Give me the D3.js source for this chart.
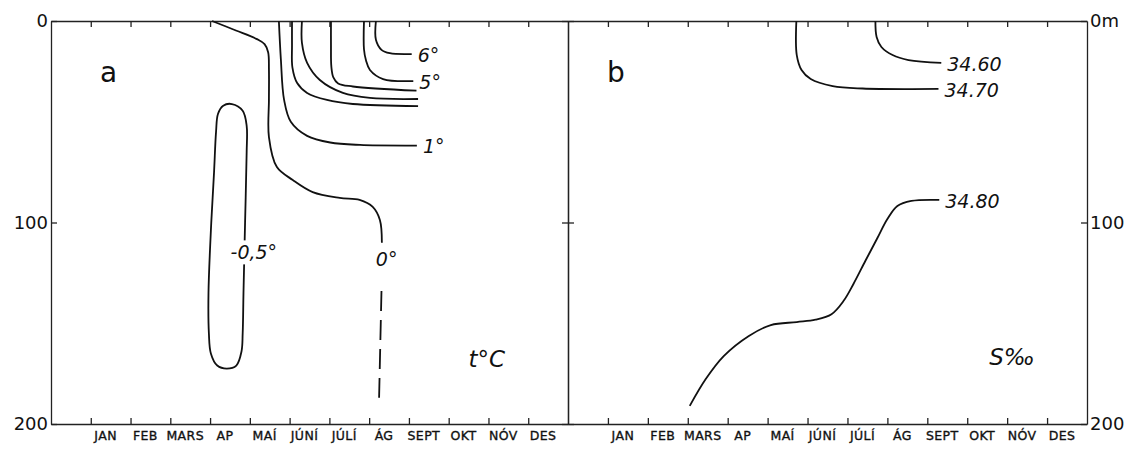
<!DOCTYPE html>
<html lang="en">
<head>
<meta charset="UTF-8">
<title>Hitastig og selta</title>
<script src="https://d3js.org/d3.v7.min.js"></script>
<style>
    body { margin: 0; background: #fff; }
    svg { display: block; font-family: "DejaVu Sans", sans-serif; }
    .axis path, .axis line { stroke: #222; stroke-width: 1.3; fill: none; }
    .axis text { font-family: "DejaVu Sans", sans-serif; fill: #111; }
    .depth text { font-size: 18px; }
    .month text { font-size: 12.5px; letter-spacing: 0.4px; stroke: #111; stroke-width: 0.35px; }
    .contour { fill: none; stroke: #111; stroke-width: 1.8; }
    .clabel { font-style: italic; font-size: 19px; fill: #111; }
    .panel-letter { font-size: 28px; fill: #111; }
    .unit { font-style: italic; font-size: 23px; fill: #111; }
</style>
</head>
<body>
<script>

    var w = 1131;
    var h = 449;

    var months = ["JAN", "FEB", "MARS", "AP", "MAÍ", "JÚNÍ", "JÚLÍ", "ÁG", "SEPT", "OKT", "NÓV", "DES"];
    var monthTicks = d3.range(1, 13);
    var depthTicks = [0, 100, 200];

    // points are [month position, depth in m]; 0 = left edge, 1 = JAN tick ... 13 = right edge
    // a: temperature
    var temp6 = [[8.17, 0], [8.17, 9.3], [8.31, 14.3], [8.52, 16], [9.07, 16.4]];
    var temp5 = [[7.87, 0], [7.87, 14], [7.92, 19.5], [8.02, 24.3], [8.35, 28.8], [9.11, 29.8]];
    var temp4 = [[7.04, 0], [7.04, 12], [7.05, 22.8], [7.10, 28], [7.22, 31], [7.59, 32.5], [9.19, 34.6]];
    var temp3 = [[6.31, 0], [6.31, 10.9], [6.44, 20.8], [6.76, 29.3], [7.34, 35.7], [8.02, 38.2], [9.23, 38.7]];
    var temp2 = [[6.06, 0], [6.06, 12], [6.07, 23], [6.19, 30.8], [6.44, 35.7], [6.94, 39.2], [7.59, 41.2], [9.23, 42.2]];
    var temp1 = [[5.73, 0], [5.78, 19], [5.86, 39], [6.03, 50], [6.44, 57], [7.02, 60.3], [7.77, 61.5], [9.2, 61.8]];
    var temp0 = [[4.05, 0], [4.65, 4.7], [5.18, 9.0], [5.37, 11.5], [5.46, 15.5], [5.48, 24], [5.48, 39],
                 [5.48, 57.6], [5.68, 72.5], [6.08, 78.9], [6.58, 84.9], [7.26, 87.8], [7.76, 88.8],
                 [8.09, 92.3], [8.27, 98.8], [8.32, 110]];
    var temp0Dashed = [[8.31, 134], [8.25, 187]];
    var tempMinus05 = [[4.55, 41.2], [4.82, 44.5], [4.92, 52], [4.92, 65], [4.88, 100], [4.84, 135],
                       [4.82, 155], [4.79, 164], [4.66, 171], [4.42, 172.5], [4.18, 171], [4.02, 165],
                       [3.97, 155], [3.96, 135], [4.03, 100], [4.10, 75], [4.15, 55], [4.20, 46], [4.33, 42]];

    // b: salinity
    var sal3460 = [[7.70, 0], [7.73, 7.9], [7.85, 12.9], [8.13, 16.9], [8.53, 19.4], [9.35, 20.8]];
    var sal3470 = [[5.72, 0], [5.73, 16.9], [5.85, 24.3], [6.08, 28.8], [6.63, 32.3], [7.38, 33.5], [9.28, 33.7]];
    var sal3480 = [[3.05, 191], [3.45, 177.7], [3.9, 166.3], [4.53, 156.3], [5.08, 150.9], [5.73, 149.4],
                   [6.2, 148.2], [6.6, 145.5], [6.9, 139], [7.15, 130.5], [7.45, 119], [7.75, 107.7],
                   [8.0, 98.3], [8.25, 91.8], [8.6, 89.3], [9.3, 88.8]];

    var svg = d3.select('body')
        .append('svg')
        .attr('width', w)
        .attr('height', h);

    var y = d3.scaleLinear().domain([0, 200]).range([21, 424]);
    var xa = d3.scaleLinear().domain([0, 13]).range([51, 568]);
    var xb = d3.scaleLinear().domain([0, 13]).range([568, 1087]);

    function drawFrame(x, leftFormat, rightFormat) {
        svg.append("g")
            .attr("class", "axis")
            .attr("transform", "translate(0," + y(0) + ")")
            .call(d3.axisTop(x).tickValues(monthTicks).tickSize(-6).tickSizeOuter(0).tickFormat(""));

        svg.append("g")
            .attr("class", "axis")
            .attr("transform", "translate(0," + y(200) + ")")
            .call(d3.axisBottom(x).tickValues(monthTicks).tickSize(-6).tickSizeOuter(0).tickFormat(""));

        var band = d3.scaleBand().domain(months).range([x(1), x(13)]);
        var labels = svg.append("g")
            .attr("class", "axis month")
            .attr("transform", "translate(-5," + y(200) + ")")
            .call(d3.axisBottom(band).tickSize(0).tickPadding(7));
        labels.select(".domain").remove();

        svg.append("g")
            .attr("class", "axis depth")
            .attr("transform", "translate(" + x(0) + ",0)")
            .call(d3.axisLeft(y).tickValues(depthTicks).tickSize(-6).tickSizeOuter(0).tickPadding(3).tickFormat(leftFormat));

        svg.append("g")
            .attr("class", "axis depth")
            .attr("transform", "translate(" + x(13) + ",0)")
            .call(d3.axisRight(y).tickValues(depthTicks).tickSize(-6).tickSizeOuter(0).tickPadding(3).tickFormat(rightFormat));
    }

    drawFrame(xa, function(d) { return d; }, function() { return ""; });
    drawFrame(xb, function() { return ""; }, function(d) { return d === 0 ? "0m" : d; });

    function lineFor(x, curve) {
        return d3.line()
            .x(function(d) { return x(d[0]); })
            .y(function(d) { return y(d[1]); })
            .curve(curve || d3.curveCatmullRom.alpha(0.5));
    }

    var tempLines = [temp6, temp5, temp4, temp3, temp2, temp1, temp0];
    var salLines = [sal3460, sal3470, sal3480];

    svg.append("g").selectAll("path")
        .data(tempLines)
        .enter()
        .append("path")
        .attr("class", "contour")
        .attr("d", lineFor(xa));

    svg.append("path")
        .attr("class", "contour")
        .attr("d", lineFor(xa, d3.curveCatmullRomClosed.alpha(0.5))(tempMinus05));

    svg.append("path")
        .attr("class", "contour")
        .attr("stroke-dasharray", "20,9")
        .attr("d", lineFor(xa, d3.curveLinear)(temp0Dashed));

    svg.append("g").selectAll("path")
        .data(salLines)
        .enter()
        .append("path")
        .attr("class", "contour")
        .attr("d", lineFor(xb));

    // labels at the end of the lines
    var endLabels = [
        { text: "6°", line: temp6, x: xa },
        { text: "5°", line: temp5, x: xa },
        { text: "1°", line: temp1, x: xa },
        { text: "34.60", line: sal3460, x: xb },
        { text: "34.70", line: sal3470, x: xb },
        { text: "34.80", line: sal3480, x: xb }
    ];

    svg.append("g").selectAll("text")
        .data(endLabels)
        .enter()
        .append("text")
        .attr("class", "clabel")
        .attr("x", function(d) { return d.x(d.line[d.line.length - 1][0]) + 6; })
        .attr("y", function(d) { return y(d.line[d.line.length - 1][1]) + 1; })
        .attr("dy", "0.35em")
        .text(function(d) { return d.text; });

    // labels sitting on the lines
    var inlineLabels = [
        { text: "-0,5°", at: [5.1, 115] },
        { text: "0°", at: [8.44, 118.5] }
    ];

    var inl = svg.append("g").selectAll("g")
        .data(inlineLabels)
        .enter()
        .append("g");

    inl.append("text")
        .attr("class", "clabel")
        .attr("text-anchor", "middle")
        .attr("x", function(d) { return xa(d.at[0]); })
        .attr("y", function(d) { return y(d.at[1]); })
        .attr("dy", "0.35em")
        .text(function(d) { return d.text; });

    inl.each(function() {
        var g = d3.select(this);
        var bb = g.select("text").node().getBBox();
        g.insert("rect", "text")
            .attr("x", bb.x - 1)
            .attr("y", bb.y - 1)
            .attr("width", bb.width + 2)
            .attr("height", bb.height + 2)
            .attr("fill", "#fff");
    });

    // panel letters and units
    svg.append("text").attr("class", "panel-letter").attr("x", xa(0) + 49).attr("y", 82).text("a");
    svg.append("text").attr("class", "panel-letter").attr("x", xb(0) + 39).attr("y", 82).text("b");
    svg.append("text").attr("class", "unit").attr("x", xa(10.5)).attr("y", 367).text("t°C");
    svg.append("text").attr("class", "unit").attr("x", xb(10.55)).attr("y", 365).text("S‰");

</script>
</body>
</html>
